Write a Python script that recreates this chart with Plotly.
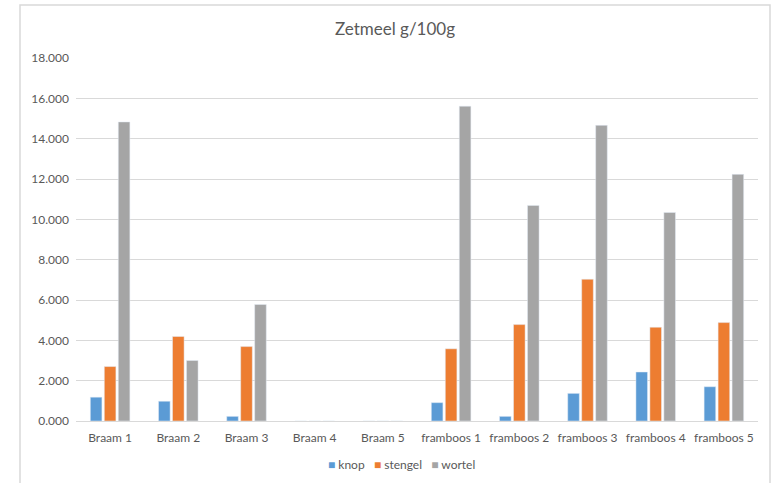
import plotly.graph_objects as go

categories = ["Braam 1", "Braam 2", "Braam 3", "Braam 4", "Braam 5",
              "framboos 1", "framboos 2", "framboos 3", "framboos 4", "framboos 5"]
knop = [1.18, 0.98, 0.23, 0, 0, 0.91, 0.23, 1.37, 2.43, 1.70]
stengel = [2.70, 4.19, 3.69, 0, 0, 3.58, 4.78, 7.03, 4.65, 4.88]
wortel = [14.83, 3.00, 5.78, 0, 0, 15.61, 10.69, 14.66, 10.34, 12.23]
y_ticks = [0, 2, 4, 6, 8, 10, 12, 14, 16, 18]

series = [("knop", knop, "#5B9BD5"),
          ("stengel", stengel, "#ED7D31"),
          ("wortel", wortel, "#A5A5A5")]

font_family = "Lato, 'Open Sans', sans-serif"
text_color = "#595959"

fig = go.Figure()
for name, values, color in series:
    fig.add_trace(go.Bar(name=name, x=categories, y=values, marker_color=color,
                         showlegend=False))

# compact legend row below the axis: coloured square followed by the series name
legend_text = "&nbsp;&nbsp;&nbsp;".join(
    f"<span style='color:{color};font-size:12px'>■</span>&nbsp;{name}"
    for name, _, color in series
)

fig.update_layout(
    width=771, height=483,
    margin=dict(l=76, r=13, t=58, b=62),
    paper_bgcolor="white", plot_bgcolor="white",
    barmode="group", bargap=0.385, bargroupgap=0.17,
    title=dict(text="Zetmeel g/100g", x=395 / 771, xanchor="center", y=0.94, yanchor="middle",
               font=dict(family=font_family, size=17, color=text_color)),
    font=dict(family=font_family, size=12, color=text_color),
    xaxis=dict(showgrid=False, showline=True, linecolor="#D9D9D9", ticks="",
               ticklabelstandoff=6,
               tickfont=dict(size=12, color=text_color)),
    yaxis=dict(range=[0, 18], tickvals=y_ticks, tickformat=".3f",
               showgrid=True, gridcolor="#D9D9D9", zeroline=False,
               showline=False, ticks="", ticklabelstandoff=6,
               tickfont=dict(size=12, color=text_color)),
    annotations=[dict(text=legend_text, xref="paper", yref="paper",
                      x=(401 - 76) / 682, y=-(464 - 421) / 363,
                      xanchor="center", yanchor="middle", showarrow=False,
                      font=dict(family=font_family, size=12, color=text_color))],
    shapes=[dict(type="rect", xref="paper", yref="paper",
                 x0=(20 - 76) / 682, x1=(770 - 76) / 682,
                 y0=-0.3, y1=1 + (58 - 5) / 363,
                 line=dict(color="#D9D9D9", width=1.5), fillcolor="rgba(0,0,0,0)",
                 layer="below")],
)

fig.write_html("out.html")
